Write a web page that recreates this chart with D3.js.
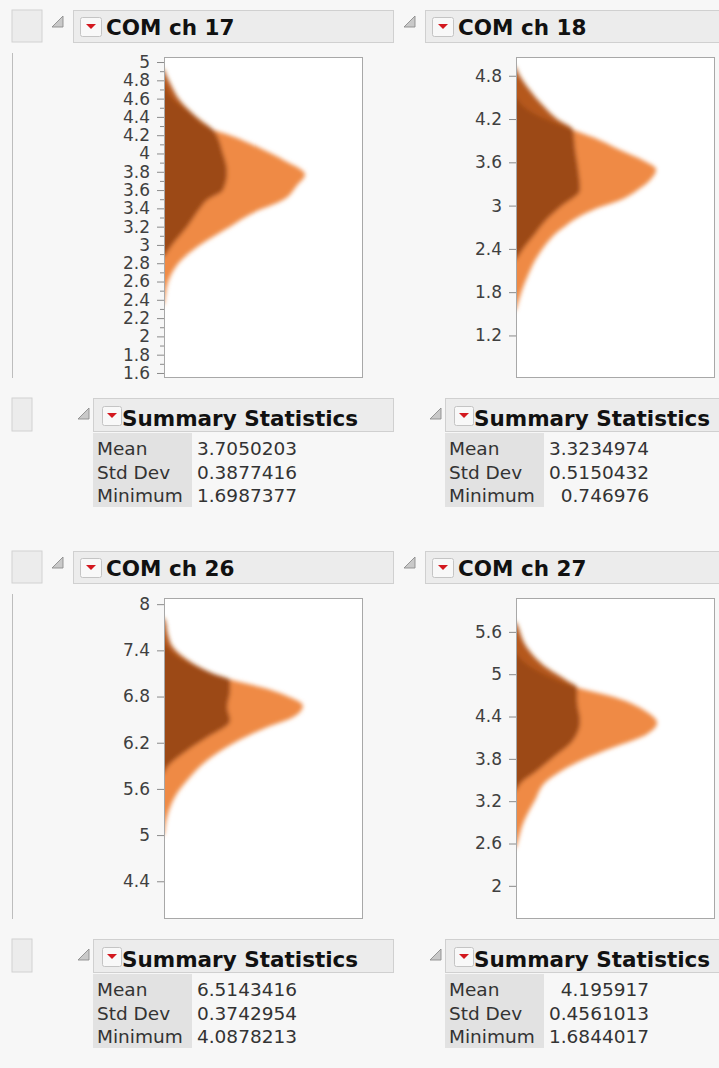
<!DOCTYPE html>
<html>
<head>
<meta charset="utf-8">
<script src="https://cdn.jsdelivr.net/npm/d3@7"></script>
<style>
  body { margin: 0; background: #f7f7f7; }
  text { font-family: "DejaVu Sans", sans-serif; }
</style>
</head>
<body>
<script>
// panel titles and summary table
const panelNames = ['COM ch 17', 'COM ch 18', 'COM ch 26', 'COM ch 27']
const statLabels = ['Mean', 'Std Dev', 'Minimum']
const meanVals = ['3.7050203', '3.3234974', '6.5143416', '4.195917']
const stdDevVals = ['0.3877416', '0.5150432', '0.3742954', '0.4561013']
const minVals = ['1.6987377', '0.746976', '4.0878213', '1.6844017']

// y axis ranges and tick labels
const axisRanges = [[1.545, 5.055], [0.61, 5.06], [3.91, 8.08], [1.53, 6.08]]
const tickLabels = [
  [1.6, 1.8, 2, 2.2, 2.4, 2.6, 2.8, 3, 3.2, 3.4, 3.6, 3.8, 4, 4.2, 4.4, 4.6, 4.8, 5],
  [1.2, 1.8, 2.4, 3, 3.6, 4.2, 4.8],
  [4.4, 5, 5.6, 6.2, 6.8, 7.4, 8],
  [2, 2.6, 3.2, 3.8, 4.4, 5, 5.6]
]
const minorTicks17 = [1.7, 1.9, 2.1, 2.3, 2.5, 2.7, 2.9, 3.1, 3.3, 3.5, 3.7, 3.9, 4.1, 4.3, 4.5, 4.7, 4.9]

// density outlines: [value, relative density]
const orange17 = [[4.75, 0], [4.6, .04], [4.45, .126], [4.26, .246], [4.2, .33], [4.04, .5], [3.93, .6], [3.77, .709], [3.65, .668], [3.49, .598], [3.35, .447], [3.2, .332], [3.02, .196], [2.84, .09], [2.65, .03], [2.43, .005], [2.35, 0]]
const brown17 = [[4.92, 0], [4.89, .005], [4.75, .035], [4.58, .08], [4.37, .181], [4.26, .246], [4.0, .296], [3.8, .317], [3.6, .296], [3.49, .216], [3.4, .181], [3.2, .116], [3.0, .04], [2.87, 0]]
const orange18 = [[4.5, 0], [4.3, .075], [4.15, .191], [4.05, .286], [3.9, .427], [3.77, .523], [3.62, .643], [3.5, .704], [3.35, .673], [3.2, .603], [3.08, .528], [2.94, .387], [2.66, .221], [2.35, .121], [2.0, .055], [1.65, .01], [1.55, 0]]
const brown18 = [[4.92, 0], [4.88, .005], [4.6, .07], [4.4, .131], [4.2, .206], [4.05, .286], [3.8, .296], [3.6, .307], [3.4, .317], [3.22, .322], [3.0, .231], [2.8, .151], [2.57, .085], [2.4, .035], [2.25, 0]]
const orange26 = [[7.5, 0], [7.35, .05], [7.2, .151], [7.01, .347], [6.92, .49], [6.81, .615], [6.68, .698], [6.53, .648], [6.4, .518], [6.19, .347], [5.97, .216], [5.71, .116], [5.54, .065], [5.28, .02], [5.0, 0]]
const brown26 = [[7.82, 0], [7.79, .005], [7.6, .02], [7.44, .045], [7.23, .146], [7.1, .246], [7.01, .332], [6.88, .332], [6.66, .317], [6.49, .332], [6.27, .216], [6.1, .116], [5.88, .015], [5.8, 0]]
const orange27 = [[5.3, 0], [5.15, .05], [5.0, .141], [4.81, .307], [4.67, .5], [4.48, .65], [4.31, .709], [4.15, .658], [3.96, .487], [3.77, .322], [3.59, .206], [3.49, .156], [3.21, .095], [2.88, .035], [2.64, .01], [2.54, 0]]
const brown27 = [[5.74, 0], [5.71, .005], [5.38, .055], [5.09, .156], [4.91, .256], [4.81, .307], [4.62, .307], [4.34, .322], [4.06, .286], [3.82, .186], [3.59, .085], [3.49, .035], [3.35, 0]]

const orangeSets = [orange17, orange18, orange26, orange27]
const brownSets = [brown17, brown18, brown26, brown27]

const W = 719, H = 1068
const svg = d3.select('body').append('svg').attr('width', W).attr('height', H)
svg.append('rect').attr('width', W).attr('height', H).attr('fill', '#f7f7f7')

const defs = svg.append('defs')
defs.append('filter').attr('id', 'soft')
  .attr('x', '-20%').attr('y', '-20%').attr('width', '140%').attr('height', '140%')
  .append('feGaussianBlur').attr('stdDeviation', 2.1)

// bits of the neighbouring (cropped) panels on the left
;[0, 541].forEach(oy => {
  svg.append('rect').attr('x', 12).attr('y', 10 + oy).attr('width', 30).attr('height', 32)
    .attr('fill', '#ececec').attr('stroke', '#d2d2d2')
  svg.append('rect').attr('x', 12).attr('y', 398 + oy).attr('width', 20).attr('height', 33)
    .attr('fill', '#ececec').attr('stroke', '#d2d2d2')
  svg.append('line').attr('x1', 12.5).attr('x2', 12.5).attr('y1', 53 + oy).attr('y2', 378 + oy)
    .attr('stroke', '#bdbdbd')
})

function disclosure (g, x, y) {
  g.append('path')
    .attr('d', `M${x},${y + 11} L${x + 11},${y + 11} L${x + 11},${y} Z`)
    .attr('fill', '#c9c9c9').attr('stroke', '#8c8c8c').attr('stroke-width', 0.9)
}

function redButton (g, x, y, w, h) {
  g.append('rect').attr('x', x).attr('y', y).attr('width', w).attr('height', h).attr('rx', 2)
    .attr('fill', '#f8f8f8').attr('stroke', '#c4c4c4')
  const cx = x + w / 2, cy = y + h / 2 - 1
  g.append('path')
    .attr('d', `M${cx - 5},${cy - 2} L${cx + 5},${cy - 2} L${cx},${cy + 3} Z`)
    .attr('fill', '#d3181f')
}

panelNames.forEach((name, i) => {
  const ox = (i % 2) * 352
  const oy = Math.floor(i / 2) * 541
  const g = svg.append('g').attr('transform', `translate(${ox},${oy})`)

  // title bar
  disclosure(g, 52, 16)
  g.append('rect').attr('x', 73.5).attr('y', 10.5).attr('width', 320).attr('height', 32)
    .attr('fill', '#ececec').attr('stroke', '#d0d0d0')
  redButton(g, 80.5, 17.5, 21, 19)
  g.append('text').attr('x', 106).attr('y', 35)
    .style('font-size', '21.5px').style('font-weight', 'bold').attr('fill', '#111')
    .text(name)

  // plot frame
  const left = 164, right = 363, top = 57, bottom = 378
  const y = d3.scaleLinear().domain(axisRanges[i]).range([bottom, top])
  const x = d3.scaleLinear().domain([0, 1]).range([left, right])

  g.append('rect').attr('x', left).attr('y', top).attr('width', right - left).attr('height', bottom - top)
    .attr('fill', '#fff')

  defs.append('clipPath').attr('id', 'frame' + i)
    .append('rect').attr('x', left + 0.5).attr('y', top).attr('width', right - left - 0.5).attr('height', bottom - top)

  const area = d3.area()
    .curve(d3.curveMonotoneY)
    .y(d => y(d[0]))
    .x0(left - 12)
    .x1(d => x(d[1]))

  const orange = orangeSets[i].slice().sort((a, b) => b[0] - a[0])
  const brown = brownSets[i].slice().sort((a, b) => b[0] - a[0])

  defs.append('clipPath').attr('id', 'core' + i)
    .append('path').attr('d', area(orange))

  const shapes = g.append('g').attr('clip-path', `url(#frame${i})`)
    .append('g').attr('filter', 'url(#soft)')
  shapes.append('path').attr('d', area(orange)).attr('fill', '#ef8a45')
  shapes.append('path').attr('d', area(brown)).attr('fill', '#b5591d')
  shapes.append('path').attr('d', area(brown)).attr('fill', '#9c4816')
    .attr('clip-path', `url(#core${i})`)

  g.append('rect').attr('x', left + 0.5).attr('y', top + 0.5).attr('width', right - left - 1).attr('height', bottom - top - 1)
    .attr('fill', 'none').attr('stroke', '#a8a8a8')

  // y axis
  const axis = g.append('g').attr('transform', `translate(${left},0)`)
    .call(d3.axisLeft(y).tickValues(tickLabels[i]).tickSize(7).tickPadding(7).tickFormat(d => d))
  axis.select('.domain').remove()
  axis.selectAll('line').attr('stroke', '#8a8a8a')
  axis.selectAll('text').attr('fill', '#404040').style('font-size', '17px')
    .style('font-family', '"DejaVu Sans", sans-serif')

  if (i === 0) {
    const minor = g.append('g').attr('transform', `translate(${left},0)`)
      .call(d3.axisLeft(y).tickValues(minorTicks17).tickSize(4).tickFormat(''))
    minor.select('.domain').remove()
    minor.selectAll('line').attr('stroke', '#8a8a8a')
  }

  // summary statistics block
  disclosure(g, 78, 408)
  g.append('rect').attr('x', 93.5).attr('y', 398.5).attr('width', 300).attr('height', 33)
    .attr('fill', '#ececec').attr('stroke', '#d0d0d0')
  redButton(g, 102.5, 406.5, 19, 19)
  g.append('text').attr('x', 122).attr('y', 426)
    .style('font-size', '21.5px').style('font-weight', 'bold').attr('fill', '#111')
    .text('Summary Statistics')

  g.append('rect').attr('x', 93).attr('y', 433).attr('width', 99).attr('height', 74)
    .attr('fill', '#e2e2e2')

  const vals = [meanVals[i], stdDevVals[i], minVals[i]]
  const rowY = d3.scalePoint().domain(statLabels).range([455, 502])
  statLabels.forEach((lab, r) => {
    g.append('text').attr('x', 97).attr('y', rowY(lab))
      .style('font-size', '18.5px').attr('fill', '#333').text(lab)
    g.append('text').attr('x', 297).attr('y', rowY(lab)).attr('text-anchor', 'end')
      .style('font-size', '18.5px').attr('fill', '#333').text(vals[r])
  })
})
</script>
</body>
</html>
